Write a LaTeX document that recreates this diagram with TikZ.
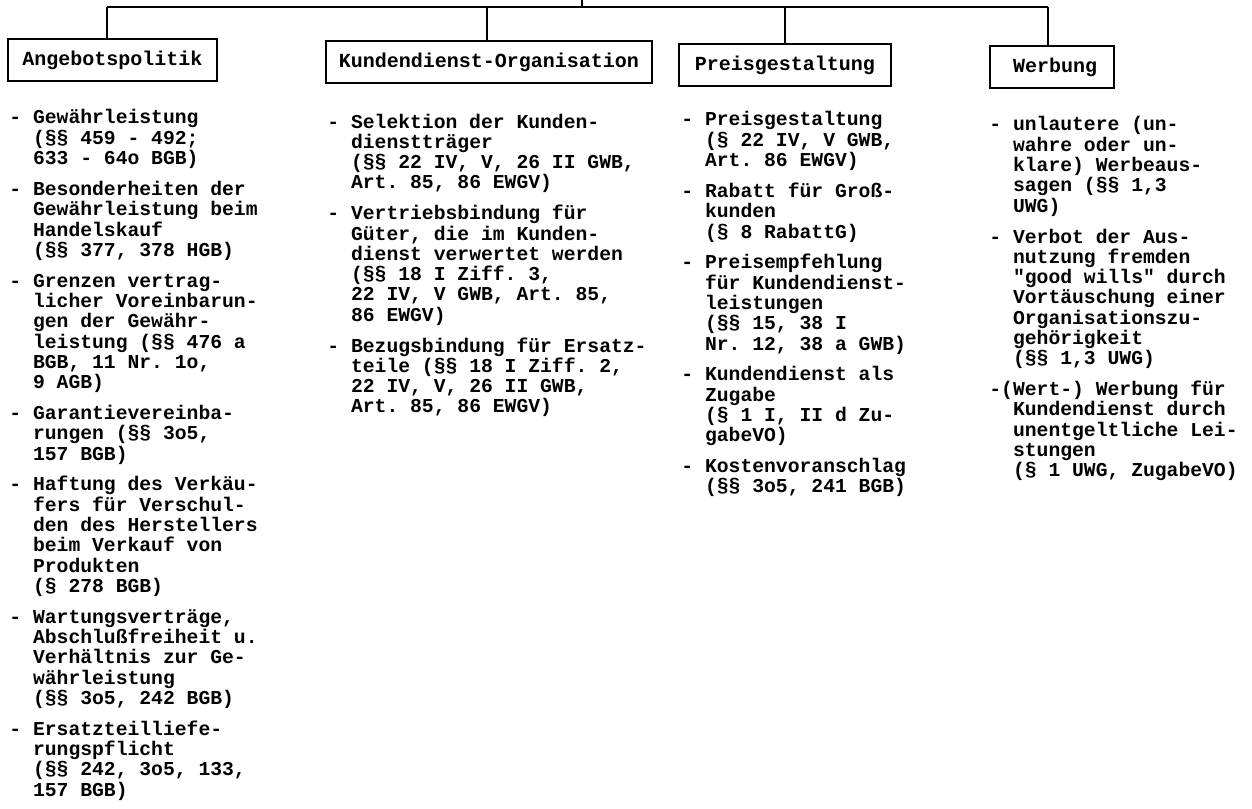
\documentclass[tikz,border=0pt]{standalone}
\usepackage{fontspec}
\setmonofont{Liberation Mono}
\newcommand\blk[1]{\vtop{\baselineskip=10.15pt\lineskiplimit=-\maxdimen\lineskip=0pt #1}}
\newcommand\lne[1]{\hbox{#1}}
\begin{document}
\begin{tikzpicture}[x=0.5pt,y=-0.5pt,
  conn/.style={line width=1.1pt},
  cat/.style={draw,line width=1.1pt,inner sep=0pt,minimum height=21pt,
    font=\ttfamily\bfseries\fontsize{10pt}{10.15pt}\selectfont},
  itm/.style={inner sep=0pt,anchor=base west,
    font=\ttfamily\bfseries\fontsize{9.85pt}{10.15pt}\selectfont}]
\useasboundingbox (0,0) rectangle (1252,808);

% category boxes
\node[cat,minimum width=104.5pt] (A) at (112.5,60) {Angebotspolitik};
\node[cat,minimum width=163pt]   (K) at (489,62)   {Kundendienst-Organisation};
\node[cat,minimum width=106pt]   (P) at (785,65)   {Preisgestaltung};
\node[cat,minimum width=62pt]    (W) at (1052,67)  {\hspace{3pt}Werbung};

% connectors
\coordinate (parent) at (582,0);
\coordinate (jA) at (107,7);
\coordinate (jK) at (487,7);
\coordinate (jP) at (785,7);
\coordinate (jW) at (1048,7);
\draw[conn] (jA) -- (jW);
\draw[conn] (parent) -- (parent |- jA);
\draw[conn] (jA) -- (jA |- A.north);
\draw[conn] (jK) -- (jK |- K.north);
\draw[conn] (jP) -- (jP |- P.north);
\draw[conn] (jW) -- (jW |- W.north);

% column 1
\node[itm] (a1) at (9,124) {\blk{\lne{- Gewährleistung}\lne{~~(§§ 459 - 492;}\lne{~~633 - 64o BGB)}}};
\node[itm] (a2) at (9,195.4) {\blk{\lne{- Besonderheiten der}\lne{~~Gewährleistung beim}\lne{~~Handelskauf}\lne{~~(§§ 377, 378 HGB)}}};
\node[itm] (a3) at (9,287.1) {\blk{\lne{- Grenzen vertrag-}\lne{~~licher Voreinbarun-}\lne{~~gen der Gewähr-}\lne{~~leistung (§§ 476 a}\lne{~~BGB, 11 Nr. 1o,}\lne{~~9 AGB)}}};
\node[itm] (a4) at (9,419.4) {\blk{\lne{- Garantievereinba-}\lne{~~rungen (§§ 3o5,}\lne{~~157 BGB)}}};
\node[itm] (a5) at (9,490.8) {\blk{\lne{- Haftung des Verkäu-}\lne{~~fers für Verschul-}\lne{~~den des Herstellers}\lne{~~beim Verkauf von}\lne{~~Produkten}\lne{~~(§ 278 BGB)}}};
\node[itm] (a6) at (9,623.1) {\blk{\lne{- Wartungsverträge,}\lne{~~Abschlußfreiheit u.}\lne{~~Verhältnis zur Ge-}\lne{~~währleistung}\lne{~~(§§ 3o5, 242 BGB)}}};
\node[itm] (a7) at (9,735.1) {\blk{\lne{- Ersatzteilliefe-}\lne{~~rungspflicht}\lne{~~(§§ 242, 3o5, 133,}\lne{~~157 BGB)}}};

% column 2
\node[itm] (b1) at (327,128) {\blk{\lne{- Selektion der Kunden-}\lne{~~dienstträger}\lne{~~(§§ 22 IV, V, 26 II GWB,}\lne{~~Art. 85, 86 EWGV)}}};
\node[itm] (b2) at (327,219.7) {\blk{\lne{- Vertriebsbindung für}\lne{~~Güter, die im Kunden-}\lne{~~dienst verwertet werden}\lne{~~(§§ 18 I Ziff. 3,}\lne{~~22 IV, V GWB, Art. 85,}\lne{~~86 EWGV)}}};
\node[itm] (b3) at (327,352) {\blk{\lne{- Bezugsbindung für Ersatz-}\lne{~~teile (§§ 18 I Ziff. 2,}\lne{~~22 IV, V, 26 II GWB,}\lne{~~Art. 85, 86 EWGV)}}};

% column 3
\node[itm] (c1) at (681,126) {\blk{\lne{- Preisgestaltung}\lne{~~(§ 22 IV, V GWB,}\lne{~~Art. 86 EWGV)}}};
\node[itm] (c2) at (681,197.4) {\blk{\lne{- Rabatt für Groß-}\lne{~~kunden}\lne{~~(§ 8 RabattG)}}};
\node[itm] (c3) at (681,268.8) {\blk{\lne{- Preisempfehlung}\lne{~~für Kundendienst-}\lne{~~leistungen}\lne{~~(§§ 15, 38 I}\lne{~~Nr. 12, 38 a GWB)}}};
\node[itm] (c4) at (681,380.8) {\blk{\lne{- Kundendienst als}\lne{~~Zugabe}\lne{~~(§ 1 I, II d Zu-}\lne{~~gabeVO)}}};
\node[itm] (c5) at (681,472.5) {\blk{\lne{- Kostenvoranschlag}\lne{~~(§§ 3o5, 241 BGB)}}};

% column 4
\node[itm] (d1) at (989,131) {\blk{\lne{- unlautere (un-}\lne{~~wahre oder un-}\lne{~~klare) Werbeaus-}\lne{~~sagen (§§ 1,3}\lne{~~UWG)}}};
\node[itm] (d2) at (989,243) {\blk{\lne{- Verbot der Aus-}\lne{~~nutzung fremden}\lne{~~"good wills" durch}\lne{~~Vortäuschung einer}\lne{~~Organisationszu-}\lne{~~gehörigkeit}\lne{~~(§§ 1,3 UWG)}}};
\node[itm] (d3) at (989,395.6) {\blk{\lne{-(Wert-) Werbung für}\lne{~~Kundendienst durch}\lne{~~unentgeltliche Lei-}\lne{~~stungen}\lne{~~(§ 1 UWG, ZugabeVO)}}};
\end{tikzpicture}
\end{document}
